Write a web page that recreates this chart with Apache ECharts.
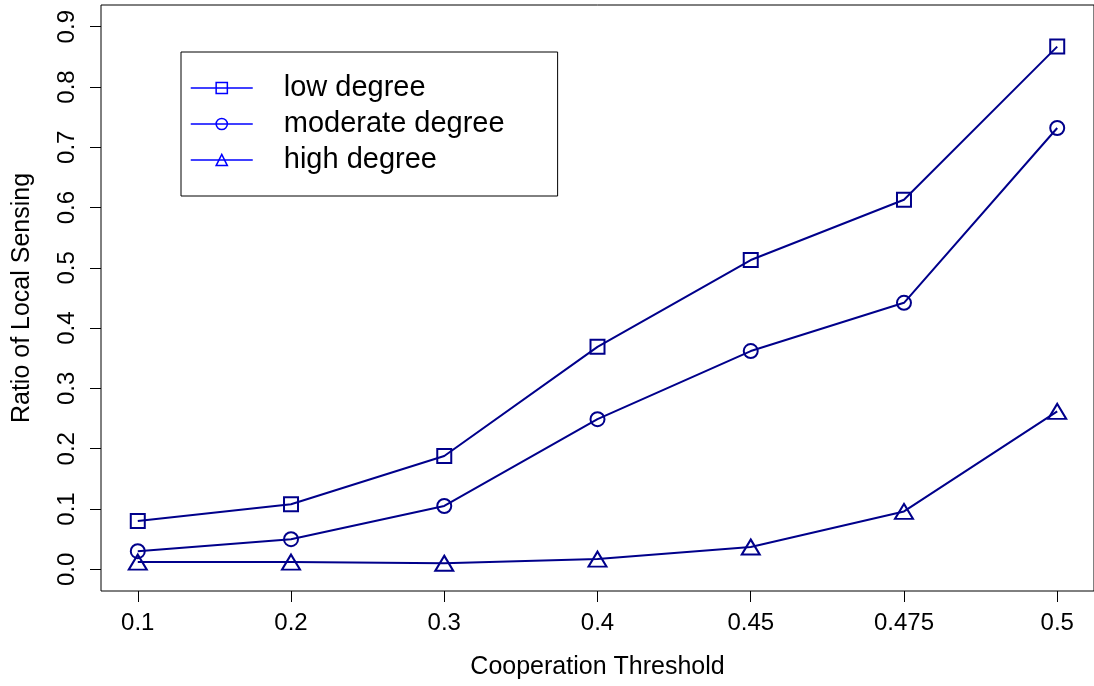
<!DOCTYPE html>
<html style="height: 100%">
   <head>
       <meta charset="utf-8">
   </head>
   <body style="height: 100%; margin: 0; background: #fff">
       <div id="container" style="width: 1094px; height: 686px"></div>
       <script type="text/javascript" src="https://cdn.jsdelivr.net/npm/echarts@6/dist/echarts.min.js"></script>
       <script type="text/javascript">
// x positions are plotted at 1..7, labels are the thresholds
var thresholds = ['0.1', '0.2', '0.3', '0.4', '0.45', '0.475', '0.5'];
var lowDegree = [0.080, 0.108, 0.188, 0.369, 0.513, 0.613, 0.867];
var moderateDegree = [0.030, 0.050, 0.105, 0.249, 0.362, 0.442, 0.732];
var highDegree = [0.012, 0.012, 0.010, 0.017, 0.037, 0.096, 0.262];
var yTicks = [0, 0.1, 0.2, 0.3, 0.4, 0.5, 0.6, 0.7, 0.8, 0.9];

var dom = document.getElementById("container");
var myChart = echarts.init(dom);
var font = 'Liberation Sans, Arial, Helvetica, sans-serif';
var navy = '#00008B';

function pts(arr) {
    return arr.map(function (v, i) { return [i + 1, v]; });
}

function mkSeries(name, data, symbol, size) {
    return {
        name: name,
        type: 'line',
        data: pts(data),
        symbol: symbol,
        symbolSize: size,
        showAllSymbol: true,
        lineStyle: { color: navy, width: 2 },
        itemStyle: { color: 'rgba(0,0,0,0)', borderColor: navy, borderWidth: 2 },
        emphasis: { disabled: true },
        animation: false
    };
}

var option = {
    backgroundColor: '#fff',
    animation: false,
    grid: {
        left: 101, right: -1, top: 5, bottom: 95,
        show: true, borderColor: '#000', borderWidth: 1
    },
    legend: {
        left: 181, top: 52,
        orient: 'vertical',
        backgroundColor: '#fff',
        borderColor: '#000', borderWidth: 1,
        padding: [21, 53, 21, 9],
        itemWidth: 62, itemHeight: 14, itemGap: 6,
        itemStyle: { color: 'rgba(0,0,0,0)', borderColor: '#0000FF', borderWidth: 1.5 },
        lineStyle: { color: '#0000FF', width: 1.5 },
        textStyle: { fontFamily: font, fontSize: 29, color: '#000', lineHeight: 30, padding: [0, 0, 0, 26] },
        selectedMode: false,
        data: ['low degree', 'moderate degree', 'high degree']
    },
    xAxis: {
        type: 'value',
        min: 0.76, max: 7.24,
        name: 'Cooperation Threshold',
        nameLocation: 'middle',
        nameGap: 64,
        nameTextStyle: { fontFamily: font, fontSize: 25, color: '#000' },
        splitLine: { show: false },
        axisLine: { show: false, onZero: false },
        axisTick: { show: true, inside: false, length: 11, lineStyle: { color: '#000' }, customValues: [1, 2, 3, 4, 5, 6, 7] },
        axisLabel: {
            fontFamily: font, fontSize: 24, color: '#000', margin: 20,
            customValues: [1, 2, 3, 4, 5, 6, 7],
            formatter: function (v) { return thresholds[Math.round(v) - 1]; }
        }
    },
    yAxis: {
        type: 'value',
        min: -0.036, max: 0.936,
        name: 'Ratio of Local Sensing',
        nameLocation: 'middle',
        nameRotate: 90,
        nameGap: 66,
        nameTextStyle: { fontFamily: font, fontSize: 25, color: '#000' },
        splitLine: { show: false },
        axisLine: { show: false, onZero: false },
        axisTick: { show: true, inside: false, length: 11, lineStyle: { color: '#000' }, customValues: yTicks },
        axisLabel: {
            fontFamily: font, fontSize: 24, color: '#000', margin: 22, rotate: 90,
            customValues: yTicks,
            formatter: function (v) { return v.toFixed(1); }
        }
    },
    series: [
        mkSeries('low degree', lowDegree, 'rect', 14),
        mkSeries('moderate degree', moderateDegree, 'circle', 14),
        mkSeries('high degree', highDegree, 'triangle', [18, 15])
    ]
};

myChart.setOption(option);
       </script>
   </body>
</html>
